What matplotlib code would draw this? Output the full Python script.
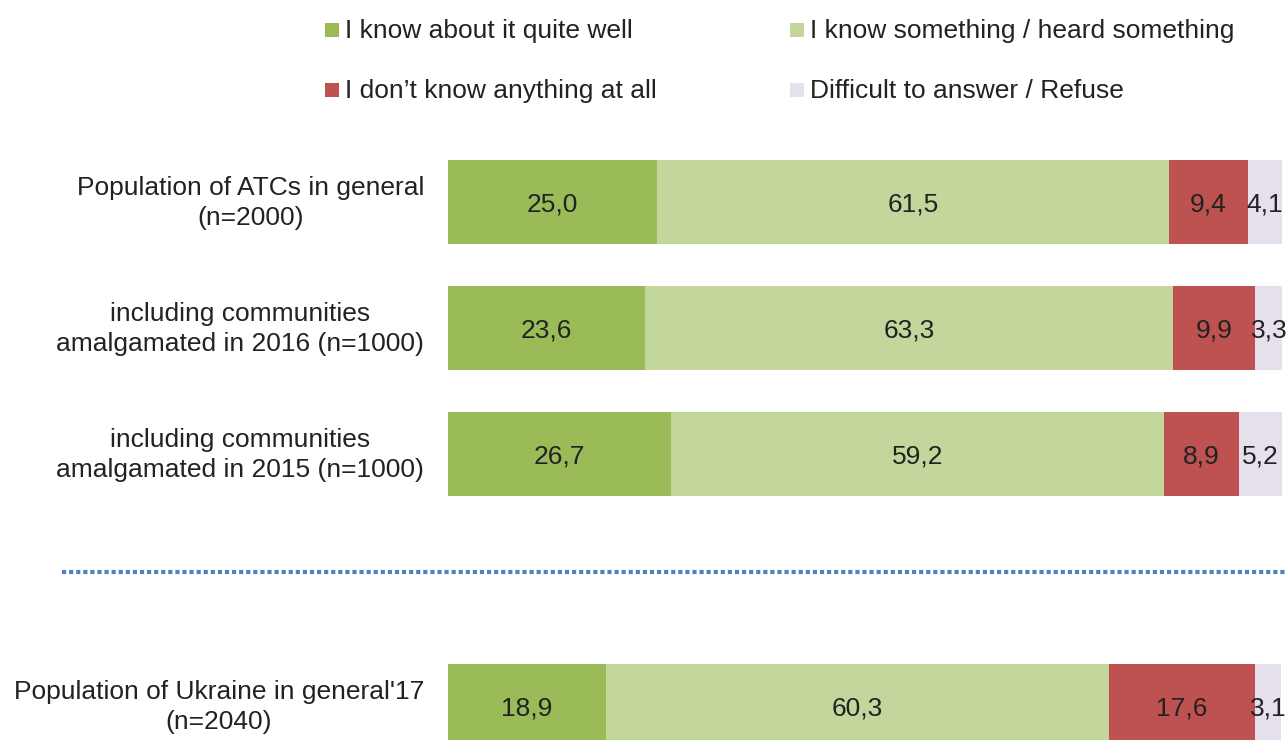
import matplotlib.pyplot as plt
from matplotlib.patches import Rectangle
import matplotlib.transforms as mtransforms

plt.rcParams["font.family"] = ["Liberation Sans", "DejaVu Sans"]

categories = [
    "Population of ATCs in general\n(n=2000)",
    "including communities\namalgamated in 2016 (n=1000)",
    "including communities\namalgamated in 2015 (n=1000)",
    "Population of Ukraine in general'17\n(n=2040)",
]
row_pos = [0, 1, 2, 4]

series_names = [
    "I know about it quite well",
    "I know something / heard something",
    "I don\u2019t know anything at all",
    "Difficult to answer / Refuse",
]
know_well = [25.0, 23.6, 26.7, 18.9]
know_something = [61.5, 63.3, 59.2, 60.3]
know_nothing = [9.4, 9.9, 8.9, 17.6]
difficult = [4.1, 3.3, 5.2, 3.1]

colors = ["#9BBB59", "#C3D69B", "#BE5250", "#E6E0EC"]
series = [know_well, know_something, know_nothing, difficult]

fig = plt.figure(figsize=(12.87, 7.4), dpi=100)
ax = fig.add_axes([448 / 1287, 0, (1282 - 448) / 1287, 1 - 140 / 740])

left = [0.0] * len(row_pos)
for vals, col in zip(series, colors):
    bars = ax.barh(row_pos, vals, left=left, height=0.667, color=col,
                   edgecolor="none")
    for b, v in zip(bars, vals):
        ax.text(b.get_x() + b.get_width() / 2,
                b.get_y() + b.get_height() / 2 + 0.02,
                f"{v:.1f}".replace(".", ","), ha="center", va="center",
                fontsize=19, color="#222222", clip_on=False)
    left = [l + v for l, v in zip(left, vals)]

ax.set_xlim(0, 100)
ax.set_ylim(4.27, -0.492)
ax.axis("off")

# category labels
trans = mtransforms.blended_transform_factory(ax.transAxes, ax.transData)
for lab, y in zip(categories, row_pos):
    ax.text(-24 / 834, y + 0.01, lab, transform=trans, ha="right",
            va="center", multialignment="center", fontsize=19,
            color="#222222", linespacing=1.32)

# dotted separator
ax.plot([-46.3, 100.6], [2.937, 2.937], color="#4F81BD", linewidth=3,
        linestyle=(0, (1, 0.7)), clip_on=False)

# legend
leg_pos = [(325, 30), (790, 30), (325, 90), (790, 90)]
for (px, py), name, col in zip(leg_pos, series_names, colors):
    fig.patches.append(Rectangle((px / 1287, 1 - (py + 7) / 740), 14 / 1287,
                                 14 / 740, transform=fig.transFigure,
                                 facecolor=col, edgecolor="none"))
    fig.text((px + 20) / 1287, 1 - (py + 1) / 740, name, ha="left",
             va="center", fontsize=19, color="#222222")

fig.savefig("out.png", dpi=100)
